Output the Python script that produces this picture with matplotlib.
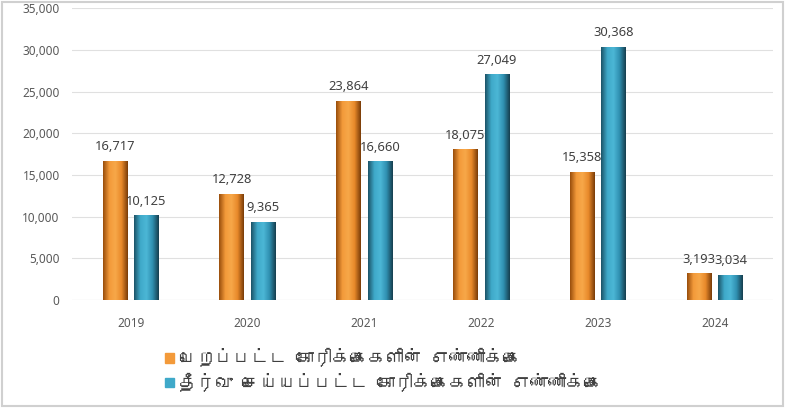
import matplotlib
matplotlib.use("Agg")
import matplotlib.pyplot as plt
import numpy as np
from matplotlib import font_manager
from matplotlib.ft2font import FT2Font
from matplotlib.colors import LinearSegmentedColormap

years = ["2019", "2020", "2021", "2022", "2023", "2024"]
received = [16717, 12728, 23864, 18075, 15358, 3193]
resolved = [10125, 9365, 16660, 27049, 30368, 3034]
series_names = ["பெறப்பட்ட கோரிக்கைகளின் எண்ணிக்கை",
                "தீர்வு செய்யப்பட்ட கோரிக்கைகளின் எண்ணிக்கை"]
yticks = [0, 5000, 10000, 15000, 20000, 25000, 30000, 35000]

ORANGE = ["#9a4e0c", "#f39a3a", "#f7a849", "#e8892a", "#7a3c08"]
TEAL = ["#1c5468", "#3fa9c9", "#4cb7d6", "#2f8fb0", "#163f4f"]


def tamil_family():
    # look for any installed font that actually has Tamil glyphs
    for f in font_manager.fontManager.ttflist:
        try:
            ft = FT2Font(f.fname)
            if ft.get_char_index(ord("த")) and ft.get_char_index(ord("க")):
                return f.name
        except Exception:
            pass
    return None


tam = tamil_family()
fams = ([tam] if tam else []) + ["Noto Sans", "DejaVu Sans"]
plt.rcParams["font.family"] = ["Noto Sans", "DejaVu Sans"]

fig = plt.figure(figsize=(7.85, 4.08), dpi=100)
ax = fig.add_axes([0.092, 0.265, 0.893, 0.715])

x = np.arange(len(years))
w = 0.21
off = 0.135


def grad_bars(xs, vals, cols, ax):
    cmap = LinearSegmentedColormap.from_list("g", cols)
    bars = ax.bar(xs, vals, width=w, color=cols[2], edgecolor="none", zorder=2)
    grad = np.linspace(0, 1, 64).reshape(1, -1)
    for b in bars:
        x0, y0 = b.get_x(), b.get_y()
        im = ax.imshow(grad, cmap=cmap, aspect="auto", zorder=3,
                       extent=[x0, x0 + b.get_width(), y0, y0 + b.get_height()])
        im.set_clip_path(b)
    return bars


grad_bars(x - off, received, ORANGE, ax)
grad_bars(x + off, resolved, TEAL, ax)

for xs, vals in ((x - off, received), (x + off, resolved)):
    for xi, v in zip(xs, vals):
        ax.text(xi, v + 900, f"{v:,}", ha="center", va="bottom",
                fontsize=9.3, color="#404040", zorder=4)

ax.set_xlim(-0.5, len(years) - 0.5)
ax.set_ylim(0, 35000)
ax.set_yticks(yticks)
ax.set_yticklabels([f"{t:,}" for t in yticks], fontsize=8.5, color="#595959")
ax.set_xticks(x)
ax.set_xticklabels(years, fontsize=8.5, color="#595959")
ax.tick_params(axis="x", length=0, pad=12)
ax.tick_params(axis="y", length=0, pad=9)
ax.grid(axis="y", color="#e0e0e0", lw=0.8, zorder=0)
ax.set_axisbelow(True)
for s in ax.spines.values():
    s.set_visible(False)
ax.axhline(0, color="#d9d9d9", lw=0.8, zorder=1)

handles = [plt.Rectangle((0, 0), 1, 1, color=ORANGE[1]),
           plt.Rectangle((0, 0), 1, 1, color=TEAL[1])]
fig.legend(handles, series_names, loc="lower left", bbox_to_anchor=(0.19, 0.0),
           frameon=False, prop={"family": fams, "size": 13},
           handlelength=0.45, handleheight=0.45,
           handletextpad=0.3, labelspacing=0.3, labelcolor="#404040")

fig.patches.append(plt.Rectangle((0.003, 0.005), 0.994, 0.99, transform=fig.transFigure,
                                 fill=False, edgecolor="#d0d0d0", lw=1.5))
fig.savefig("out.png", dpi=100)
